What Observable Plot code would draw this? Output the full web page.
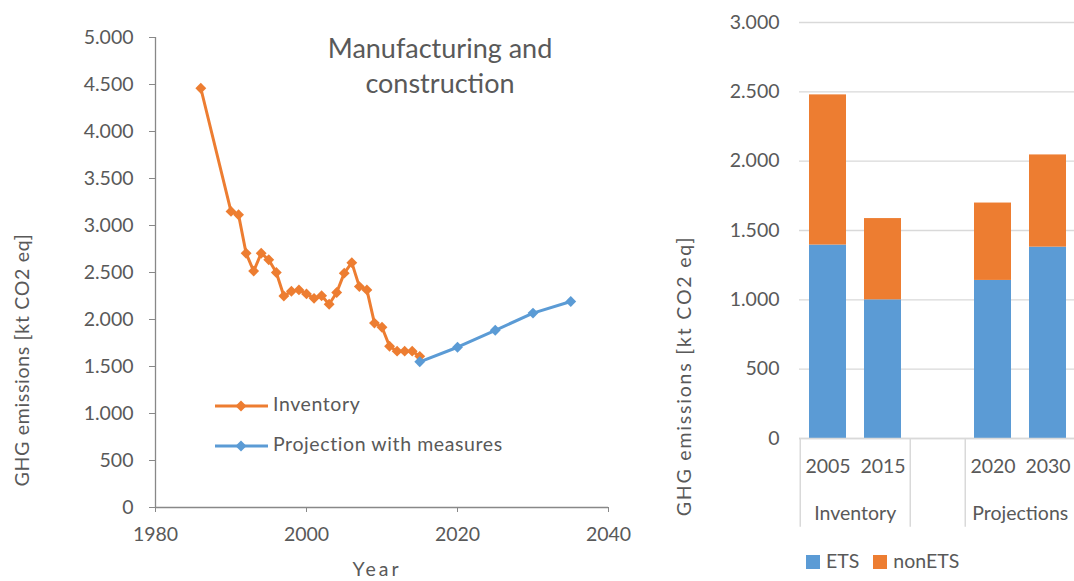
<!DOCTYPE html>
<html><head><meta charset="utf-8">
<script src="https://cdn.jsdelivr.net/npm/d3@7"></script>
<script src="https://cdn.jsdelivr.net/npm/@observablehq/plot@0.6"></script>
<style>
html,body{margin:0;padding:0;background:#fff;overflow:hidden;width:1074px;height:581px;}
#wrap{position:relative;width:1074px;height:581px;overflow:hidden;font-family:Lato,sans-serif;color:#595959}
.abs{position:absolute;white-space:nowrap}
#left{position:absolute;left:0;top:0;width:660px}
#right{position:absolute;left:660px;top:0;width:420px}
#wrap svg{max-width:none !important}
</style></head><body><div id="wrap">
<div id="left"></div><div id="right"></div>
<div class="abs" id="title" style="left:290px;top:30px;width:300px;text-align:center;font-size:27px;line-height:35px">Manufacturing and<br>construction</div>
<div class="abs" id="leg1" style="left:214px;top:384px;font-size:19.5px;line-height:40px"></div>
<div class="abs" id="ylab1" style="left:21px;top:360px;font-size:19.5px;letter-spacing:0.7px;transform:translate(-50%,-50%) rotate(-90deg)">GHG emissions [kt CO2 eq]</div>
<div class="abs" id="xlab1" style="left:377px;top:569px;font-size:19.5px;line-height:20px;letter-spacing:3px;transform:translate(-50%,-50%)">Year</div>
<div class="abs" id="ylab2" style="left:683px;top:376px;font-size:19.5px;letter-spacing:1.8px;transform:translate(-50%,-50%) rotate(-90deg)">GHG emissions [kt CO2 eq]</div>
<div class="abs" id="leg2" style="left:806px;top:549px;font-size:19.5px;line-height:24px"></div>
</div>
<script>
// ---- Data: left chart (line) ----
const inventoryYears = [1986,1990,1991,1992,1993,1994,1995,1996,1997,1998,1999,2000,2001,2002,2003,2004,2005,2006,2007,2008,2009,2010,2011,2012,2013,2014,2015];
const inventoryValues = [4460,3150,3115,2705,2515,2705,2635,2500,2250,2300,2315,2272,2225,2252,2162,2287,2493,2605,2350,2315,1962,1918,1715,1663,1663,1663,1608];
const projectionYears = [2015,2020,2025,2030,2035];
const projectionValues = [1550,1705,1885,2068,2192];
const leftYTicks = [0,500,1000,1500,2000,2500,3000,3500,4000,4500,5000];
const leftXTicks = [1980,2000,2020,2040];
const seriesNames = ["Inventory","Projection with measures"];

// ---- Data: right chart (stacked bars) ----
const barCategories = ["2005","2015"," ","2020","2030"];
const barGroups = ["Inventory","Inventory","","Projections","Projections"];
const etsValues = [1395,1000,0,1140,1380];
const nonEtsValues = [1083,586,0,558,665];
const rightYTicks = [0,500,1000,1500,2000,2500,3000];
const stackNames = ["ETS","nonETS"];

const ORANGE = "#ED7D31", BLUE = "#5B9BD5", TXT = "#595959";
const FS = 19.5;
const fmt = d3.formatLocale({decimal:",", thousands:".", grouping:[3], currency:["","€"]}).format(",");

const inv = inventoryYears.map((y,i)=>({year:y, value:inventoryValues[i]}));
const proj = projectionYears.map((y,i)=>({year:y, value:projectionValues[i]}));

const left = Plot.plot({
  width:660, height:581,
  marginLeft:155, marginRight:52, marginTop:37, marginBottom:74,
  style:{fontFamily:"Lato, sans-serif", fontSize:FS+"px", color:TXT, background:"transparent", overflow:"visible"},
  x:{domain:[1980,2040]},
  y:{domain:[0,5000]},
  marks:[
    Plot.axisY({ticks:leftYTicks, tickFormat:fmt, tickSize:6, tickPadding:16, stroke:"#888", label:null}),
    Plot.axisX({ticks:leftXTicks, tickFormat:d=>String(d), tickSize:5, tickPadding:15, stroke:"#888", label:null}),
    Plot.ruleX([1980], {stroke:"#888", strokeWidth:1.3}),
    Plot.ruleY([0], {stroke:"#888", strokeWidth:1.3}),
    Plot.line(inv, {x:"year", y:"value", stroke:ORANGE, strokeWidth:3}),
    Plot.dot(inv, {x:"year", y:"value", symbol:"diamond2", r:4.9, fill:ORANGE, stroke:null}),
    Plot.line(proj, {x:"year", y:"value", stroke:BLUE, strokeWidth:3}),
    Plot.dot(proj, {x:"year", y:"value", symbol:"diamond2", r:4.9, fill:BLUE, stroke:null})
  ]
});
document.getElementById("left").appendChild(left);

// left legend (swatches)
const sw = (c)=>`<svg width="58" height="14" style="vertical-align:middle;margin-right:1px"><line x1="1" x2="54" y1="7" y2="7" stroke="${c}" stroke-width="3"/><path d="M27,1.5L32.5,7L27,12.5L21.5,7Z" fill="${c}"/></svg>`;
document.getElementById("leg1").innerHTML = seriesNames.map((n,i)=>`<div>${sw(i?BLUE:ORANGE)}<span style="letter-spacing:0.6px">${n}</span></div>`).join("");

// right chart
const stacked = [];
barCategories.forEach((c,i)=>{
  stacked.push({cat:c, group:barGroups[i], series:"ETS", value:etsValues[i]});
  stacked.push({cat:c, group:barGroups[i], series:"nonETS", value:nonEtsValues[i]});
});
const RW = 420, RML = 139, RMR = 3.5;
const step = (RW - RML - RMR)/barCategories.length;
const groupLabels = [{cat:"2015", label:"Inventory"},{cat:"2030", label:"Projections"}];
const separators = ["2005"," ","2020"];

const right = Plot.plot({
  width:RW, height:581,
  marginLeft:RML, marginRight:RMR, marginTop:22, marginBottom:143,
  style:{fontFamily:"Lato, sans-serif", fontSize:FS+"px", color:TXT, background:"transparent", overflow:"visible"},
  x:{domain:barCategories, paddingInner:0.333, paddingOuter:0.1665},
  y:{domain:[0,3000]},
  color:{domain:stackNames, range:[BLUE, ORANGE]},
  marks:[
    Plot.gridY(rightYTicks, {stroke:"#D9D9D9", strokeOpacity:1, strokeWidth:1.3}),
    Plot.axisY({ticks:rightYTicks, tickFormat:fmt, tickSize:0, tickPadding:20, label:null}),
    Plot.barY(stacked, {x:"cat", y:"value", fill:"series", order:stackNames}),
    Plot.ruleY([0], {stroke:"#D9D9D9", strokeWidth:1.5}),
    Plot.axisX({tickSize:0, tickPadding:21, label:null, tickFormat:d=>d.trim()}),
    Plot.ruleX(separators, {x:d=>d, y1:0, y2:-640, stroke:"#D9D9D9", strokeWidth:1.5, dx:-step/2}),
    Plot.text(groupLabels, {x:"cat", y:-540, text:"label", dx:-step/2, fill:TXT, fontSize:FS, letterSpacing:0.5})
  ]
});
document.getElementById("right").appendChild(right);

document.getElementById("leg2").innerHTML = stackNames.map((n,i)=>`<span style="display:inline-block;width:14px;height:14px;background:${i?ORANGE:BLUE};vertical-align:-1px;margin-right:6px"></span><span style="margin-right:14px">${n}</span>`).join("");
</script>
</body></html>
